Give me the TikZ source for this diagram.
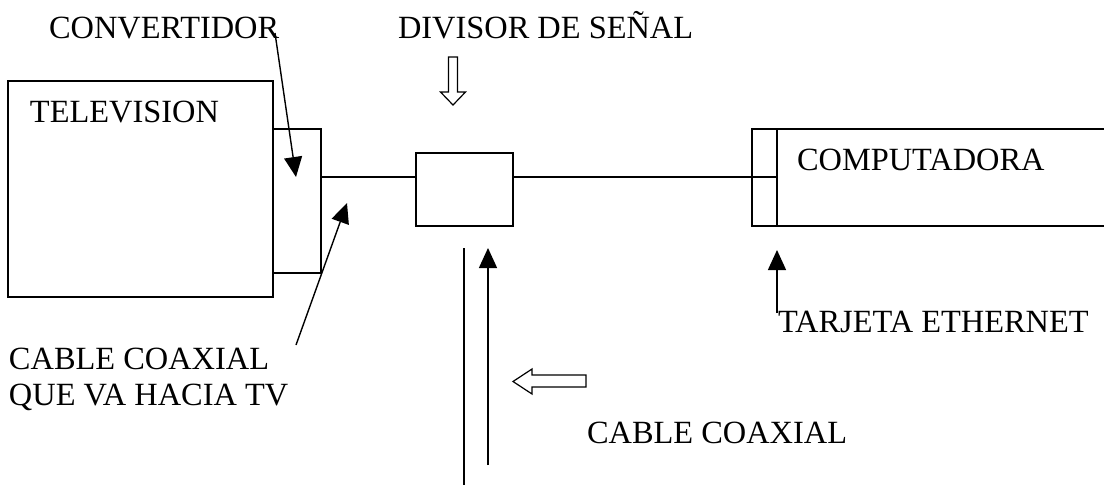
\documentclass[tikz,border=0pt]{standalone}
\usepackage{fontspec}
\setmainfont{Liberation Serif}
\usetikzlibrary{arrows.meta}
\begin{document}
\begin{tikzpicture}[x=1pt,y=-1pt, line width=1.4pt,
  box/.style={draw, inner sep=0pt, outer sep=0pt, anchor=north west},
  lbl/.style={inner sep=0pt, outer sep=0pt, anchor=base west, font=\fontsize{32.4}{37}\selectfont},
  pointer/.style={-{Triangle[length=20pt,width=18pt]}},
  hollow/.style={draw, fill=white, line width=1.2pt, line join=miter}]
\useasboundingbox (0,0) rectangle (1104,485);
% boxes
\node[box, minimum width=265pt, minimum height=216pt] (tv) at (8,81) {};
\node[box, minimum width=48pt, minimum height=144pt] (conv) at (273,129) {};
\node[box, minimum width=97pt, minimum height=73pt] (split) at (416,153) {};
\node[box, minimum width=25pt, minimum height=97pt] (eth) at (752,129) {};
\node[box, minimum width=340pt, minimum height=97pt] (pc) at (777,129) {};
% labels
\node[lbl] (tvlbl) at (30,122) {TELEVISION};
\node[lbl] (convlbl) at (49,38) {CONVERTIDOR};
\node[lbl] (divlbl) at (398,38) {DIVISOR DE SEÑAL};
\node[lbl] (pclbl) at (797,170) {COMPUTADORA};
\node[lbl] (ethlbl) at (778,332) {TARJETA ETHERNET};
\node[lbl] (cabtv1) at (9,369) {CABLE COAXIAL};
\node[lbl] (cabtv2) at (9,405) {QUE VA HACIA TV};
\node[lbl] (coaxlbl) at (587,443) {CABLE COAXIAL};
% cable level
\coordinate (lvl) at (0,177);
\draw (conv.east |- lvl) -- (split.west |- lvl);
\draw (split.east |- lvl) -- (pc.west |- lvl);
% pointers
\coordinate (convtail) at (275,33);
\coordinate (convtip) at (296,177);
\draw[pointer] (convtail) -- (convtip);
\coordinate (tvtail) at (296,345);
\coordinate (tvtip) at (347,203);
\draw[pointer] (tvtail) -- (tvtip);
\coordinate (ethtail) at (777,313);
\coordinate (ethtip) at (777,250);
\draw[pointer] (ethtail) -- (ethtip);
% incoming coaxial cable
\coordinate (cin1a) at (464,248);
\coordinate (cin1b) at (464,490);
\draw (cin1a) -- (cin1b);
\coordinate (cin2a) at (488,465);
\coordinate (cin2b) at (488,248);
\draw[pointer] (cin2a) -- (cin2b);
% hollow arrows
\draw[hollow] (448.5,57) -- (457.5,57) -- (457.5,92) -- (465.5,92) -- (453,105) -- (440.5,92) -- (448.5,92) -- cycle;
\draw[hollow] (586,375) -- (532,375) -- (532,369) -- (513,381.5) -- (532,394) -- (532,387) -- (586,387) -- cycle;
\end{tikzpicture}
\end{document}
